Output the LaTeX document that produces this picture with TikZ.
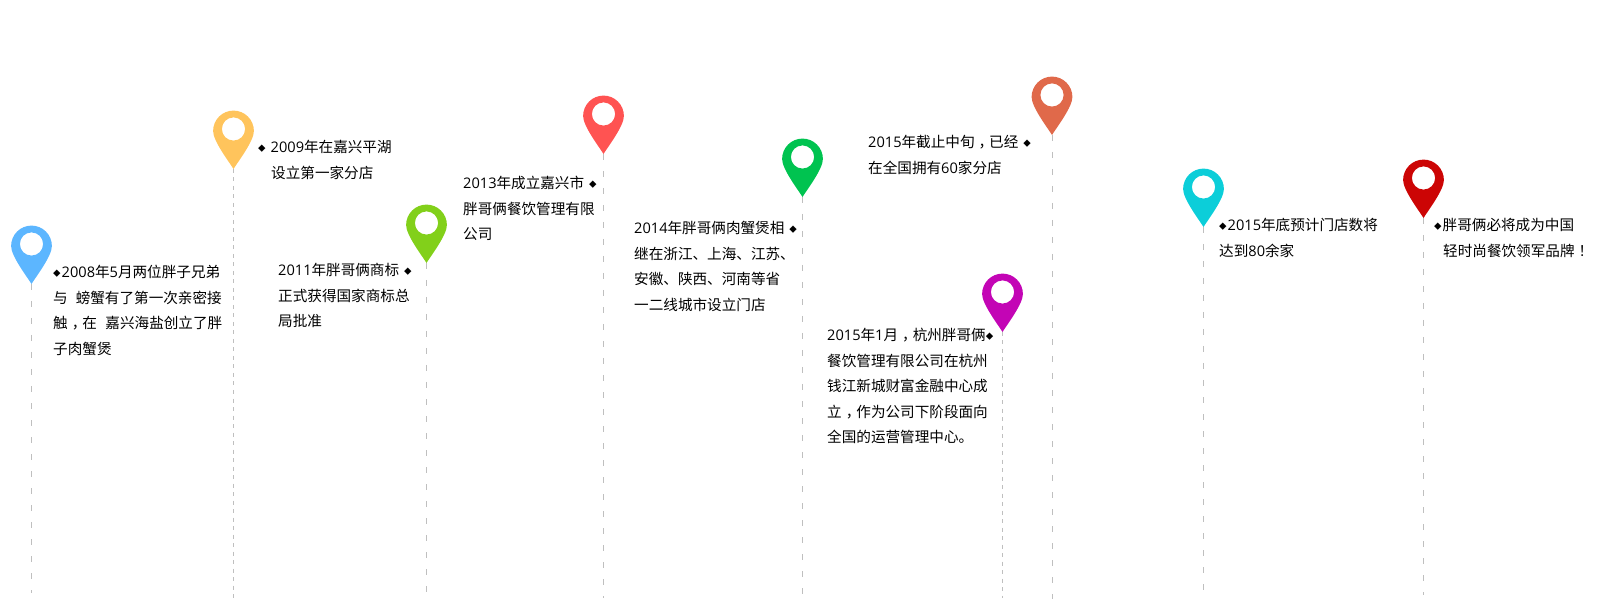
\documentclass[tikz,border=0pt]{standalone}
\usepackage{fontspec}
\setmainfont{Noto Sans CJK SC}
\newfontfamily\digitfont{Open Sans}
\usepackage{tikz}
\usetikzlibrary{positioning, calc}

\definecolor{pinBlue}{RGB}{92, 182, 255}
\definecolor{pinYellow}{RGB}{255, 196, 92}
\definecolor{pinLime}{RGB}{130, 208, 26}
\definecolor{pinRed}{RGB}{255, 83, 82}
\definecolor{pinGreen}{RGB}{0, 195, 80}
\definecolor{pinPurple}{RGB}{195, 5, 181}
\definecolor{pinOrange}{RGB}{224, 105, 74}
\definecolor{pinCyan}{RGB}{12, 206, 217}
\definecolor{pinDark}{RGB}{204, 5, 5}

\newcommand{\dm}{\raisebox{1.2pt}{\fontsize{7.5}{7.5}\selectfont ◆}}
\newcommand{\nm}[1]{{\digitfont #1}}
\newcommand{\pc}[1]{\hspace{4pt}#1\hspace{-4pt}}

\begin{document}
\begin{tikzpicture}[
    x=1pt, y=-1pt,
    stemLong/.style={gray!50, line width=0.8pt, dash pattern=on 6pt off 11pt},
    stemShort/.style={gray!50, line width=0.8pt, dash pattern=on 4pt off 4.5pt},
    note/.style={anchor=north west, inner sep=0pt, align=left, text=black,
                 font=\fontsize{14.6}{25.6}\selectfont},
  ]
    \useasboundingbox (0,0) rectangle (1598,601);

    % Pins and stems
    \foreach \name/\x/\y/\z/\c/\s in {
        a/31.5/284/593/pinBlue/stemLong,
        b/233.5/169/600/pinYellow/stemShort,
        c/426.5/263/598/pinLime/stemLong,
        d/603.5/154/598/pinRed/stemLong,
        e/802.5/197/598/pinGreen/stemLong,
        f/1002.5/332/598/pinPurple/stemShort,
        g/1052/135/599/pinOrange/stemLong,
        h/1203.5/227/601/pinCyan/stemLong,
        i/1423.5/218/595/pinDark/stemLong} {
      \coordinate (tip\name) at (\x,\y);
      \coordinate (end\name) at (\x,\z);
      \draw[\s] (tip\name) -- (end\name);
      \fill[\c, even odd rule, shift={(tip\name)}]
        (0,0) .. controls (-5,-8) and (-20.4,-28) .. (-20.4,-38)
        arc[start angle=180, end angle=360, radius=20.4]
        .. controls (20.4,-28) and (5,-8) .. (0,0) -- cycle
        (0,-40) circle[radius=11.6];
    }

    % Notes
    \node[note] (noteA) at (53,265) {\dm\hspace{1pt}\nm{2008}年\nm{5}月两位胖子兄弟\\与\hspace{8pt}螃蟹有了第一次亲密接\\触\pc{，}在\hspace{8.5pt}嘉兴海盐创立了胖\\子肉蟹煲};
    \node[note] (noteB) at (258,140) {\dm\hspace{5pt}\nm{2009}年在嘉兴平湖\\\hspace{13pt}设立第一家分店};
    \node[note] (noteC) at (278,263) {\nm{2011}年胖哥俩商标\hspace{5pt}\dm\\正式获得国家商标总\\局批准};
    \node[note] (noteD) at (463,176) {\nm{2013}年成立嘉兴市\hspace{5pt}\dm\\胖哥俩餐饮管理有限\\公司};
    \node[note] (noteE) at (634,221) {\nm{2014}年胖哥俩肉蟹煲相\hspace{5pt}\dm\\继在浙江、上海、江苏、\\安徽、陕西、河南等省\\一二线城市设立门店};
    \node[note] (noteF) at (868,135) {\nm{2015}年截止中旬\pc{，}已经\hspace{5pt}\dm\\在全国拥有\nm{60}家分店};
    \node[note] (noteG) at (827,328) {\nm{2015}年\nm{1}月\pc{，}杭州胖哥俩\dm\\餐饮管理有限公司在杭州\\钱江新城财富金融中心成\\立\pc{，}作为公司下阶段面向\\全国的运营管理中心。};
    \node[note] (noteH) at (1219,218) {\dm\hspace{1pt}\nm{2015}年底预计门店数将\\达到\nm{80}余家};
    \node[note] (noteI) at (1434,218) {\dm\hspace{1pt}胖哥俩必将成为中国\\\hspace{9pt}轻时尚餐饮领军品牌\pc{！}};
  \end{tikzpicture}
\end{document}
